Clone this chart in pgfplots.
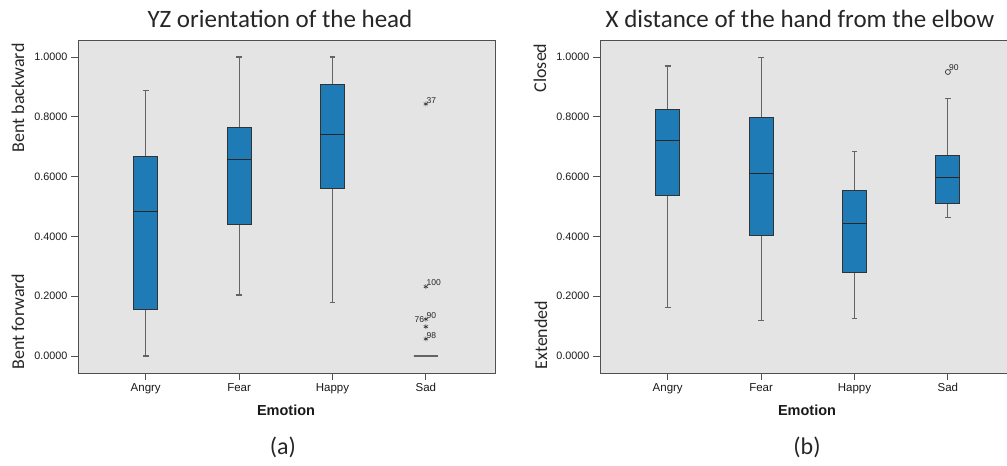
\documentclass[border=0pt]{standalone}
\usepackage{pgfplots}
\pgfplotsset{compat=1.18}
\usepgfplotslibrary{statistics}
\usepackage{fontspec}
\setmainfont{Liberation Sans}
\newfontfamily\carlito{Carlito}
\definecolor{boxblue}{RGB}{31,123,181}
\definecolor{bggray}{RGB}{228,228,228}
\definecolor{whisk}{RGB}{100,100,100}
\definecolor{framec}{RGB}{80,80,80}
\pgfplotsset{
  spssaxis/.style={
    scale only axis, width=417pt, height=333pt,
    anchor=south west,
    xmin=-0.725, xmax=3.74, ymin=-0.057, ymax=1.057,
    axis background/.style={fill=bggray},
    axis line style={framec, line width=0.9pt},
    tick pos=left, tick align=outside,
    major tick length=7pt,
    every tick/.style={framec, line width=0.9pt},
    xtick={0,1,2,3}, xticklabels={Angry,Fear,Happy,Sad},
    ytick={0,0.2,0.4,0.6,0.8,1.0},
    yticklabel style={/pgf/number format/.cd, fixed, fixed zerofill, precision=4, assume math mode=true},
    ticklabel style={font=\fontsize{10.8}{12}\selectfont, text=black!90},
    xticklabel style={font=\fontsize{11.5}{13}\selectfont},
    clip=false,
    boxplot/draw direction=y,
    /pgfplots/boxplot/every box/.style={draw=black!80, fill=boxblue, line width=0.9pt},
    /pgfplots/boxplot/every whisker/.style={draw=whisk, line width=1.1pt},
    /pgfplots/boxplot/every median/.style={draw=black!85, line width=1.1pt},
    /pgfplots/boxplot/box extend=0.257,
    /pgfplots/boxplot/whisker extend=0.06,
  },
  bx/.style={boxplot prepared={#1}, solid, mark=none, draw=black!75},
}
\begin{document}
\begin{tikzpicture}
\useasboundingbox (0pt,0pt) rectangle (1007pt,-466pt);
% ---------- (a) ----------
\begin{axis}[spssaxis, at={(78pt,-373pt)}]
\addplot+[bx={draw position=0, lower whisker=0, lower quartile=0.157, median=0.484, upper quartile=0.669, upper whisker=0.887}] coordinates {};
\addplot+[bx={draw position=1, lower whisker=0.204, lower quartile=0.440, median=0.657, upper quartile=0.763, upper whisker=1.0}] coordinates {};
\addplot+[bx={draw position=2, lower whisker=0.178, lower quartile=0.561, median=0.742, upper quartile=0.907, upper whisker=1.0}] coordinates {};
\addplot+[bx={draw position=3, lower whisker=0, lower quartile=0, median=0, upper quartile=0, upper whisker=0,
  every box/.style={draw=whisk, line width=1.1pt}, every median/.style={draw=whisk, line width=1.1pt}}] coordinates {};
\addplot[only marks, mark=asterisk, mark size=2.5pt, black!80, line width=0.6pt,
  nodes near coords, point meta=explicit symbolic,
  every node near coord/.style={anchor=south west, inner sep=0.5pt, font=\fontsize{8.5}{9}\selectfont, text=black!85}]
  table[meta=lab] {
x y lab
3 0.843 37
3 0.232 100
3 0.123 90
3 0.098 {}
3 0.057 98
};
\addplot[only marks, mark=none, nodes near coords, point meta=explicit symbolic,
  every node near coord/.style={anchor=east, inner sep=1.5pt, font=\fontsize{8.5}{9}\selectfont, text=black!85}]
  table[meta=lab] {
x y lab
3 0.123 76
};
\end{axis}
% ---------- (b) ----------
\begin{axis}[spssaxis, at={(600pt,-373pt)}]
\addplot+[bx={draw position=0, lower whisker=0.162, lower quartile=0.537, median=0.721, upper quartile=0.825, upper whisker=0.970}] coordinates {};
\addplot+[bx={draw position=1, lower whisker=0.118, lower quartile=0.404, median=0.610, upper quartile=0.799, upper whisker=0.998}] coordinates {};
\addplot+[bx={draw position=2, lower whisker=0.126, lower quartile=0.279, median=0.442, upper quartile=0.554, upper whisker=0.683}] coordinates {};
\addplot+[bx={draw position=3, lower whisker=0.464, lower quartile=0.511, median=0.598, upper quartile=0.672, upper whisker=0.862}] coordinates {};
\addplot[only marks, mark=o, mark size=2.5pt, black!80, line width=0.7pt,
  nodes near coords, point meta=explicit symbolic,
  every node near coord/.style={anchor=south west, inner sep=1pt, font=\fontsize{8.5}{9}\selectfont, text=black!85}]
  table[meta=lab] {
x y lab
3 0.950 90
};
\end{axis}
% ---------- text ----------
\node[font=\carlito\fontsize{25}{28}\selectfont, text=black!85] at (280pt,-19pt) {YZ orientation of the head};
\node[font=\carlito\fontsize{25}{28}\selectfont, text=black!85] at (800pt,-19pt) {X distance of the hand from the elbow};
\node[rotate=90, anchor=east, font=\carlito\fontsize{18}{20}\selectfont, text=black!85] at (18pt,-40pt) {Bent backward};
\node[rotate=90, anchor=west, font=\carlito\fontsize{18}{20}\selectfont, text=black!85] at (18pt,-373pt) {Bent forward};
\node[rotate=90, anchor=east, font=\carlito\fontsize{18}{20}\selectfont, text=black!85] at (540pt,-40pt) {Closed};
\node[rotate=90, anchor=west, font=\carlito\fontsize{18}{20}\selectfont, text=black!85] at (541pt,-373pt) {Extended};
\node[font=\bfseries\fontsize{14.5}{16}\selectfont, text=black!90] at (286pt,-410pt) {Emotion};
\node[font=\bfseries\fontsize{14.5}{16}\selectfont, text=black!90] at (807pt,-410pt) {Emotion};
\node[font=\carlito\fontsize{24}{27}\selectfont, text=black!85] at (283pt,-447pt) {(a)};
\node[font=\carlito\fontsize{24}{27}\selectfont, text=black!85] at (807pt,-447pt) {(b)};
\end{tikzpicture}
\end{document}
